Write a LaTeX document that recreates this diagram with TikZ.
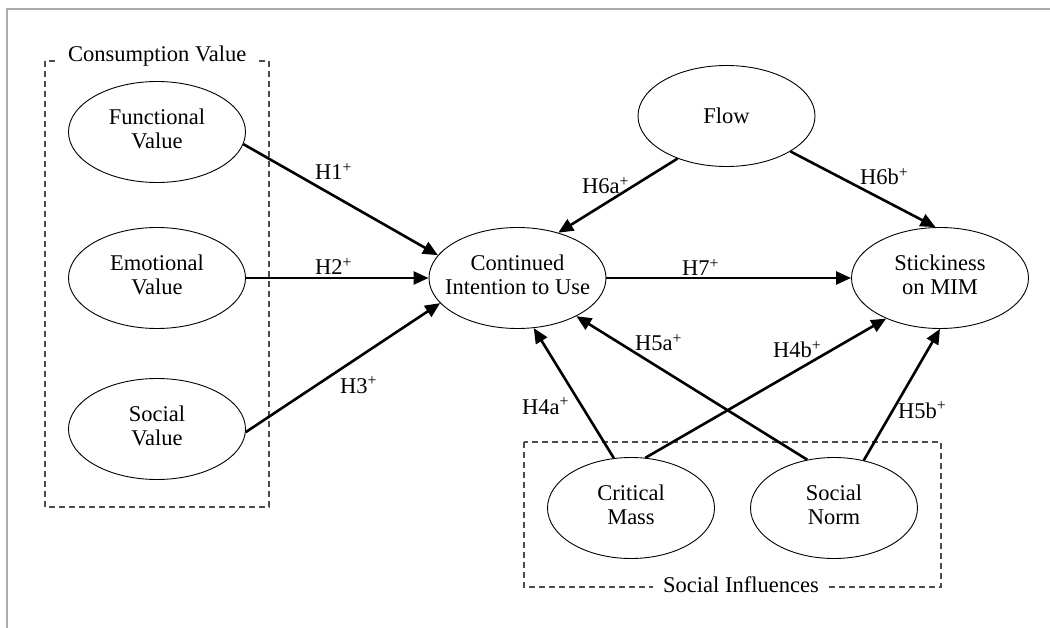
\documentclass[tikz,border=0pt]{standalone}
\usepackage{fontspec}
\setmainfont{Liberation Serif}
\usetikzlibrary{shapes.geometric,arrows.meta}

% centred multi-line text that does not widen its ellipse
\newcommand{\ltext}[1]{\makebox[0pt]{\begin{tabular}{@{}c@{}}#1\end{tabular}}}

\begin{document}
\begin{tikzpicture}[x=1pt,y=-1pt,
  txt/.style={font=\fontsize{22.5}{24}\selectfont},
  latent/.style={txt,ellipse,draw,line width=0.9pt,minimum width=177pt,
    minimum height=101pt,inner sep=0pt},
  smalllatent/.style={latent,minimum width=167pt},
  hyp/.style={line width=2.6pt,-{Triangle[length=15pt,width=13pt]}},
  hlab/.style={txt,anchor=base west,inner sep=0pt},
  grp/.style={draw=black!70,line width=1.1pt,dash pattern=on 6pt off 4pt},
  grplab/.style={txt,anchor=base west,fill=white,inner xsep=10pt,inner ysep=3pt},
  frame/.style={draw=black!33,line width=2pt}
]
\useasboundingbox (0,0) rectangle (1050,628);

% outer frame (top and left edges)
\draw[frame] (7,628) -- (7,9) -- (1050,9);

% group boxes
\draw[grp] (45,61) rectangle (269,507);
\draw[grp] (524,442) rectangle (941,587);
\node[grplab] (cvlab) at (58,62) {Consumption Value};
\node[grplab] (silab) at (653,592) {Social Influences};

% constructs
\node[latent] (fv) at (157,132) {\ltext{Functional\\Value}};
\node[latent] (ev) at (157,278) {\ltext{Emotional\\Value}};
\node[latent] (sv) at (157,429) {\ltext{Social\\Value}};
\node[latent] (ci) at (517.5,278) {\ltext{Continued\\Intention to Use}};
\node[latent] (fl) at (726.5,116) {Flow};
\node[latent] (st) at (940,278) {\ltext{Stickiness\\on MIM}};
\node[smalllatent] (cm) at (631,508) {\ltext{Critical\\Mass}};
\node[smalllatent] (sn) at (834,508) {\ltext{Social\\Norm}};

% hypothesised paths
\draw[hyp] (fv.-8.4) -- (ci.164);
\draw[hyp] (ev) -- (ci);
\draw[hyp] (sv.-2.6) -- (ci.-162.7);
\draw[hyp] (fl.-139.1) -- (ci.48);
\draw[hyp] (fl.-29.5) -- (st.95.6);
\draw[hyp] (ci) -- (st);
\draw[hyp] (cm.109.8) -- (ci.-72.8);
\draw[hyp] (cm.74.4) -- (st.-143);
\draw[hyp] (sn.119.4) -- (ci.-33.2);
\draw[hyp] (sn.58.7) -- (st.-90);

% path labels
\node[hlab] (h1) at (315,180) {H1\textsuperscript{+}};
\node[hlab] (h2) at (315,275) {H2\textsuperscript{+}};
\node[hlab] (h3) at (340,393) {H3\textsuperscript{+}};
\node[hlab] (h6a) at (582,194) {H6a\textsuperscript{+}};
\node[hlab] (h6b) at (860,185) {H6b\textsuperscript{+}};
\node[hlab] (h7) at (682,276) {H7\textsuperscript{+}};
\node[hlab] (h5a) at (635,351) {H5a\textsuperscript{+}};
\node[hlab] (h4b) at (773,358) {H4b\textsuperscript{+}};
\node[hlab] (h4a) at (522,414) {H4a\textsuperscript{+}};
\node[hlab] (h5b) at (898,418) {H5b\textsuperscript{+}};
\end{tikzpicture}
\end{document}
